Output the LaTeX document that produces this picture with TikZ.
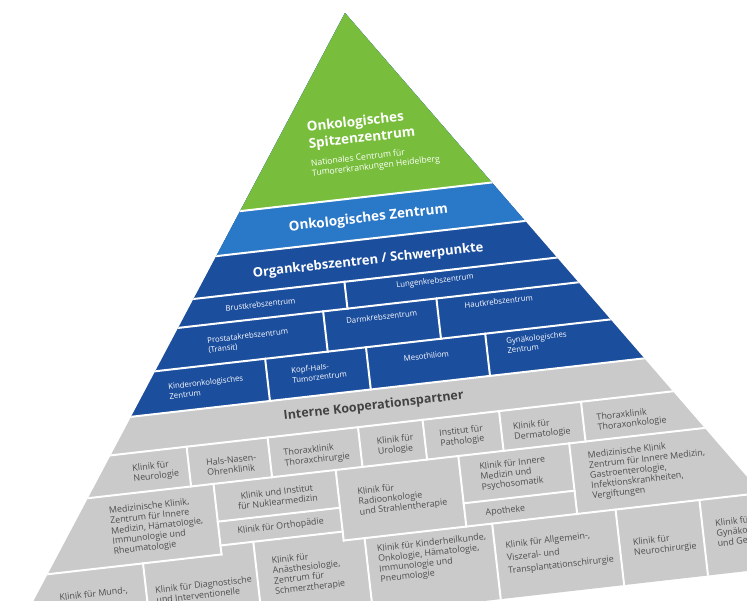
\documentclass[tikz,border=0pt]{standalone}
\usepackage{fontspec}
\setmainfont{Open Sans}
\definecolor{pgreen}{HTML}{78BE3C}
\definecolor{plight}{HTML}{2A78C8}
\definecolor{pdark}{HTML}{1C4E9E}
\definecolor{pgray}{HTML}{CACACA}
\definecolor{ptext}{HTML}{4E4E4E}
\def\hw{0.685}
\tikzset{
  sep/.style={white, line width=2pt, line cap=rect},
  tier/.style={font=\bfseries\fontsize{13.5}{16}\selectfont, text=white, inner sep=0pt},
  bluecell/.style={font=\fontsize{7.8}{9.6}\selectfont, text=white, align=left, inner sep=0pt},
  graycell/.style={font=\fontsize{8.9}{10.2}\selectfont, text=ptext, align=left, inner sep=0pt}
}
\begin{document}
\begin{tikzpicture}[x=1pt,y=1pt]
\useasboundingbox (0,0) rectangle (747,-600);
\clip (0,0) rectangle (747,-600);
\begin{scope}[shift={(345,-13)}, rotate=6.5, y=-1pt, transform shape]
  % tiers
  \fill[pgray] (0,0) -- ({-\hw*600},600) -- ({\hw*600},600) -- cycle;
  \fill[pdark] (0,0) -- ({-\hw*377},377) -- ({\hw*377},377) -- cycle;
  \fill[plight] (0,0) -- ({-\hw*227},227) -- ({\hw*227},227) -- cycle;
  \fill[pgreen] (0,0) -- ({-\hw*185},185) -- ({\hw*185},185) -- cycle;
  % white joints
  \begin{scope}
    \clip (0,0) -- ({-\hw*600},600) -- ({\hw*600},600) -- cycle;
    \foreach \lev in {185,227,267,294,334.5,377,413,453}
      \draw[sep] (-450,\lev) -- (450,\lev);
    \draw[sep] (-450,524) -- (-184,524) (-184,491) -- (-61,491) (-184,515) -- (-61,515)
      (-61,524) -- (450,524) (62.4,500.6) -- (174,500.6);
    \foreach \uu/\va/\vb in {-31/267/294, -55.5/294/334.5, 58.5/294/334.5,
        -118.5/334.5/377, -17/334.5/377, 103/334.5/377,
        -206.5/413/453, -125/413/453, -34/413/453, 31/413/453, 108/413/453, 190.5/413/453,
        -184/453/524, -61/453/524, 62.4/453/524, 174/453/524,
        -263/524/600, -151/515/600, -40/524/600, 88.4/524/600, 212.6/524/600, 297/524/600}
      \draw[sep] (\uu,\va) -- (\uu,\vb);
  \end{scope}
  % green
  \node[tier, font=\bfseries\fontsize{13.5}{16.7}\selectfont, align=left, anchor=west] (spitze) at (-51,118.5) {Onkologisches\\Spitzenzentrum};
  \node[bluecell, font=\fontsize{8.6}{10.1}\selectfont, anchor=west] (spitzesub) at (-51,151) {Nationales Centrum für\\Tumorerkrankungen Heidelberg};
  % blue
  \node[tier] (onkz) at (0,207) {Onkologisches Zentrum};
  \node[tier, font=\bfseries\fontsize{13}{16}\selectfont] (organ) at (-5,249) {Organkrebszentren / Schwerpunkte};
  \node[bluecell] (brust) at (-117,280) {Brustkrebszentrum};
  \node[bluecell] (lunge) at (59,277) {Lungenkrebszentrum};
  \node[bluecell, anchor=west] (prostata) at (-174,315) {Prostatakrebszentrum\\(Transit)};
  \node[bluecell] (darm) at (2,306) {Darmkrebszentrum};
  \node[bluecell] (haut) at (120,304) {Hautkrebszentrum};
  \node[bluecell, anchor=west] (kinder) at (-218,356) {Kinderonkologisches\\Zentrum};
  \node[bluecell, anchor=west] (kopfhals) at (-94,354) {Kopf-Hals-\\Tumorzentrum};
  \node[bluecell] (meso) at (42,350) {Mesothiliom};
  \node[bluecell, anchor=west] (gyn) at (123,349) {Gynäkologisches\\Zentrum};
  % gray
  \node[tier, text=ptext!85!black, font=\bfseries\fontsize{12.5}{15}\selectfont] (intern) at (-16,394) {Interne Kooperationspartner};
  \node[graycell, anchor=west] (neuro) at (-263,434) {Klinik für\\Neurologie};
  \node[graycell, anchor=west] (hno) at (-189,436) {Hals-Nasen-\\Ohrenklinik};
  \node[graycell, anchor=west] (thchir) at (-111,436) {Thoraxklinik\\Thoraxchirurgie};
  \node[graycell, anchor=west] (uro) at (-17,435) {Klinik für\\Urologie};
  \node[graycell, anchor=west] (patho) at (46,434) {Institut für\\Pathologie};
  \node[graycell, anchor=west] (derma) at (120,436) {Klinik für\\Dermatologie};
  \node[graycell, anchor=west] (thonk) at (204,436) {Thoraxklinik\\Thoraxonkologie};
  \node[graycell, anchor=west] (medrheuma) at (-291,489) {Medizinische Klinik,\\Zentrum für Innere\\Medizin, Hämatologie,\\Immunologie und\\Rheumatologie};
  \node[graycell, align=center] (nuklear) at (-122,473) {Klinik und Institut\\für Nuklearmedizin};
  \node[graycell] (ortho) at (-122,503) {Klinik für Orthopädie};
  \node[graycell, anchor=west] (radio) at (-42,488) {Klinik für\\Radioonkologie\\und Strahlentherapie};
  \node[graycell, anchor=west] (psycho) at (82,477) {Klinik für Innere\\Medizin und\\Psychosomatik};
  \node[graycell, anchor=west] (apo) at (83,513) {Apotheke};
  \node[graycell, anchor=west] (medgastro) at (191,488) {Medizinische Klinik\\Zentrum für Innere Medizin,\\Gastroenterologie,\\Infektionskrankheiten,\\Vergiftungen};
  \node[graycell, anchor=west] (mund) at (-350,549) {Klinik für Mund-,};
  \node[graycell, anchor=west] (diag) at (-254,557) {Klinik für Diagnostische\\und Interventionelle};
  \node[graycell, anchor=west] (anaesth) at (-135,552) {Klinik für\\Anästhesiologie,\\Zentrum für\\Schmerztherapie};
  \node[graycell, anchor=west] (kinderhk) at (-29,552) {Klinik für Kinderheilkunde,\\Onkologie, Hämatologie,\\Immunologie und\\Pneumologie};
  \node[graycell, font=\fontsize{8.9}{13}\selectfont, anchor=west] (allg) at (99,560.5) {Klinik für Allgemein-,\\Viszeral- und\\Transplantationschirurgie};
  \node[graycell, anchor=west] (neurochir) at (226,564.5) {Klinik für\\Neurochirurgie};
  \node[graycell, anchor=west] (gyngeb) at (310,559) {Klinik für\\Gynäkologie\\und Geburtshilfe};
\end{scope}
\end{tikzpicture}
\end{document}
